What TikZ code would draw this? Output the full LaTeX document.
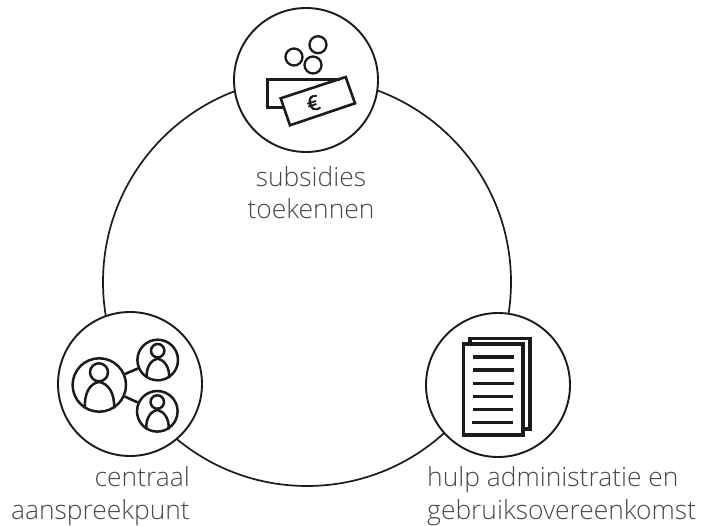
\documentclass[tikz,border=0pt]{standalone}
\usepackage{fontspec}
\setmainfont{Open Sans Light}
\newfontfamily\eurofont{Open Sans}[FakeBold=2]
\definecolor{ink}{HTML}{1D1A1A}
\definecolor{txt}{HTML}{4A4A4A}
\tikzset{
  x=1pt,y=-1pt,
  ring/.style={circle,draw=ink,line width=1.9pt,fill=white,minimum size=144pt,inner sep=0pt},
  bigring/.style={circle,draw=ink,line width=1.7pt,minimum size=408pt,inner sep=0pt},
  icon/.style={draw=ink,line width=2.6pt,line join=miter},
  coin/.style={circle,draw=ink,line width=2.3pt,minimum size=17pt,inner sep=0pt},
  face/.style={circle,draw=ink,line width=2.5pt,inner sep=0pt},
  thick line/.style={draw=ink,line width=3.2pt},
  lab/.style={text=txt,font=\fontsize{26.4pt}{30pt}\selectfont,inner sep=0pt},
}
\begin{document}
\begin{tikzpicture}
\useasboundingbox (0,0) rectangle (706,526);
\node[bigring] (big) at (307,282) {};
\node[ring] (top) at (306,80) {};
\node[ring] (left) at (130,384) {};
\node[ring] (right) at (498,385) {};
% coins and notes
\node[coin] (c1) at (294,57) {};
\node[coin] (c2) at (318,44.7) {};
\node[coin] (c3) at (313,65) {};
\draw[icon] (283.3,107.7) -- (267.3,107.7) -- (267.3,79.3) -- (340,79.3);
\draw[icon] (280.7,98.3) -- (345.7,77) -- (355,103.3) -- (290,125.3) -- cycle;
\node[rotate=18,text=ink,font=\fontsize{21pt}{24pt}\eurofont,inner sep=0pt] (euro) at (313.3,103.3) {€};
% people
\node[face,minimum size=53.4pt] (pa) at (99.3,385) {};
\node[face,minimum size=40.6pt] (pb) at (157.7,360) {};
\node[face,minimum size=40.6pt] (pc) at (157.3,411.3) {};
\draw[icon] (pa) -- (pb);
\draw[icon] (pa) -- (pc);
\node[face,minimum size=18pt] (ha) at (99,372.3) {};
\node[face,minimum size=13.4pt] (hb) at (157.7,350.7) {};
\node[face,minimum size=13.4pt] (hc) at (157.3,402) {};
\draw[icon,line width=2.5pt] (85,408.3) .. controls (84,393) and (90,383.3) .. (99,382) .. controls (108,383.3) and (115,393) .. (114,408.3);
\draw[icon,line width=2.5pt] (146.7,378) .. controls (146,367) and (151,360) .. (157.7,358.5) .. controls (164,360) and (170,367) .. (169,378);
\draw[icon,line width=2.5pt] (146.3,429.3) .. controls (145.6,418.3) and (150.6,411.3) .. (157.3,409.8) .. controls (163.6,411.3) and (169.6,418.3) .. (168.6,429.3);
% documents
\draw[thick line] (470,344) -- (470,338.3) -- (530,338.3) -- (530,429) -- (523,429);
\draw[thick line] (463.3,344) rectangle (523,435);
\foreach \y/\a/\b in {357/473.3/513.7,370/473.3/513.7,383.3/473.3/513.7,396.3/473/513.4,409.3/473/513.4,422.7/472.3/513}
  \draw[thick line] (\a,\y) -- (\b,\y);
% labels
\node[lab,anchor=base] (l1) at (311,186.5) {subsidies};
\node[lab,anchor=base] (l2) at (311,219) {toekennen};
\node[lab,anchor=base east] (l3) at (190,486) {centraal};
\node[lab,anchor=base east] (l4) at (190,519) {aanspreekpunt};
\node[lab,anchor=base west] (l5) at (427,486) {hulp administratie en};
\node[lab,anchor=base west] (l6) at (427,519) {gebruiksovereenkomst};
\end{tikzpicture}
\end{document}
